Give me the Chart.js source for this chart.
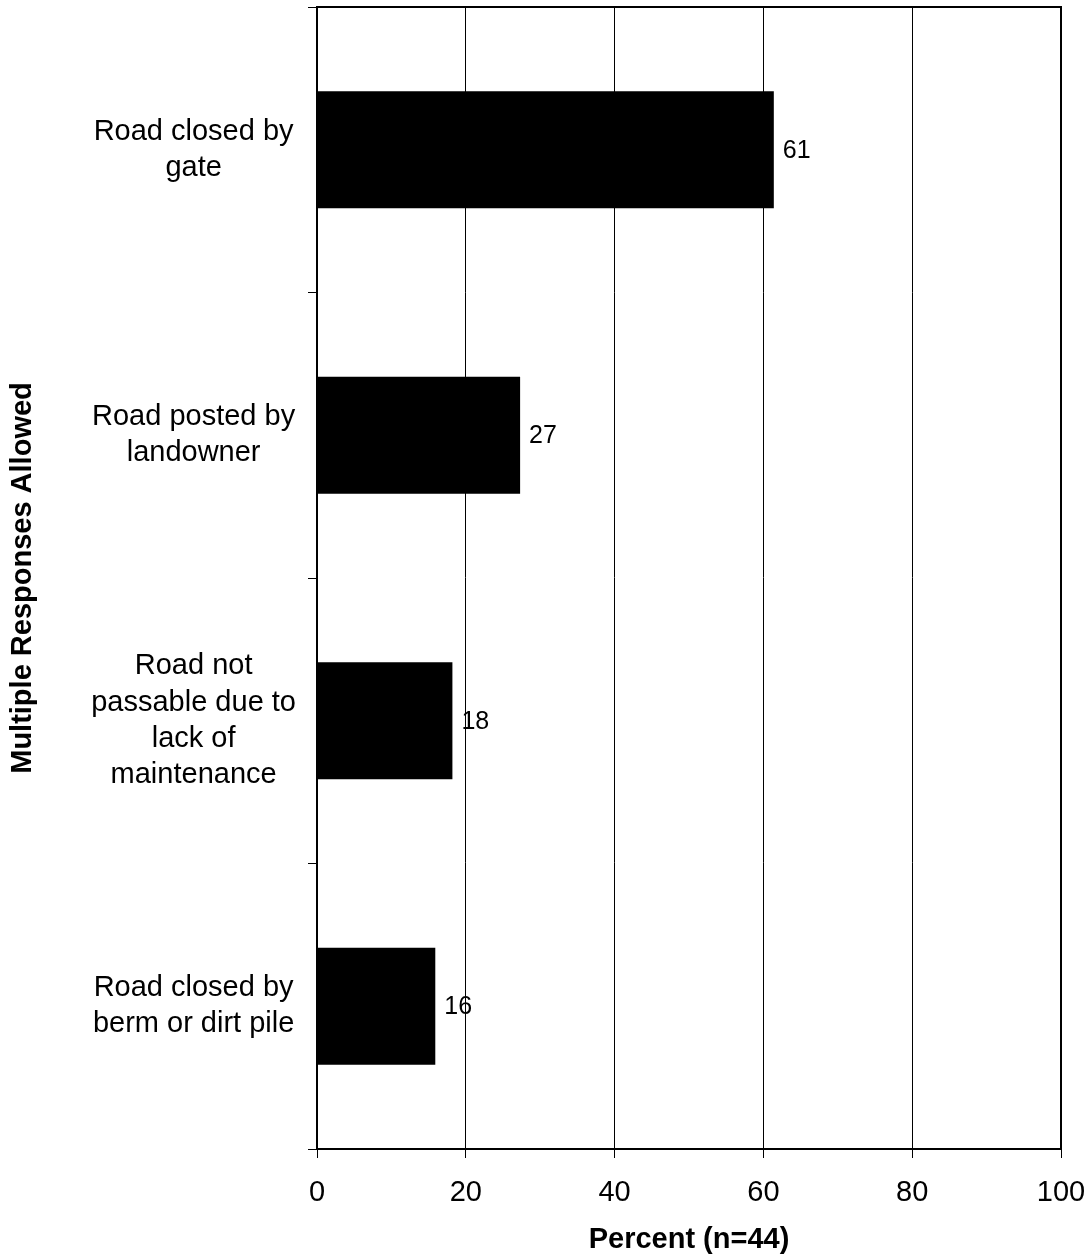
<!DOCTYPE html>
<html>
<head>
<meta charset="utf-8">
<script src="https://cdn.jsdelivr.net/npm/chart.js@4/dist/chart.umd.min.js"></script>
<style>
  html, body { margin: 0; padding: 0; background: #fff; }
  #wrap { width: 1092px; height: 1259px; }
</style>
</head>
<body>
<div id="wrap"><canvas id="reasonsChart" width="1092" height="1259"></canvas></div>
<script>
const categories = [
    ['Road closed by', 'gate'],
    ['Road posted by', 'landowner'],
    ['Road not', 'passable due to', 'lack of', 'maintenance'],
    ['Road closed by', 'berm or dirt pile']
];
const percents = [61.4, 27.3, 18.2, 15.9];
const xTicks = [0, 20, 40, 60, 80, 100];

const FONT = "'Liberation Sans', Arial, sans-serif";

// marco superior e direito da área do gráfico
const framePlugin = {
    id: 'frame',
    afterDraw(chart) {
        const { ctx, chartArea: a } = chart;
        ctx.save();
        ctx.strokeStyle = '#000';
        ctx.lineWidth = 2;
        ctx.beginPath();
        ctx.moveTo(a.left, a.top);
        ctx.lineTo(a.right, a.top);
        ctx.lineTo(a.right, a.bottom);
        ctx.stroke();
        ctx.restore();
    }
};

// rótulos de valor ao lado das barras
const valueLabels = {
    id: 'valueLabels',
    afterDatasetsDraw(chart) {
        const { ctx } = chart;
        const meta = chart.getDatasetMeta(0);
        ctx.save();
        ctx.fillStyle = '#000';
        ctx.font = '25px ' + FONT;
        ctx.textAlign = 'left';
        ctx.textBaseline = 'middle';
        meta.data.forEach((bar, i) => {
            ctx.fillText(Math.round(percents[i]), bar.x + 9, bar.y + 1);
        });
        ctx.restore();
    }
};

const ctx = document.getElementById('reasonsChart').getContext('2d');
const reasonsChart = new Chart(ctx, {
    type: 'bar',
    data: {
        labels: categories,
        datasets: [{
            data: percents,
            backgroundColor: '#000',
            borderWidth: 0,
            barPercentage: 0.41,
            categoryPercentage: 1
        }]
    },
    options: {
        indexAxis: 'y',
        responsive: false,
        animation: false,
        layout: { padding: { top: 7, right: 31, left: 0, bottom: 0 } },
        plugins: {
            legend: { display: false },
            tooltip: { enabled: false }
        },
        scales: {
            x: {
                min: 0,
                max: 100,
                afterBuildTicks: scale => { scale.ticks = xTicks.map(v => ({ value: v })); },
                afterFit: scale => {
                    scale.height = 110;
                    scale.paddingLeft = 0;
                    scale.paddingRight = 0;
                },
                grid: { color: '#000', lineWidth: 1, tickLength: 9 },
                border: { color: '#000', width: 2 },
                ticks: {
                    color: '#000',
                    padding: 18,
                    maxRotation: 0,
                    font: { family: FONT, size: 29 }
                },
                title: {
                    display: true,
                    text: 'Percent (n=44)',
                    color: '#000',
                    font: { family: FONT, size: 29, weight: 'bold' },
                    padding: { top: 0, bottom: 2 }
                }
            },
            y: {
                afterFit: scale => {
                    scale.width = 317;
                    scale.paddingTop = 0;
                    scale.paddingBottom = 0;
                },
                grid: { drawOnChartArea: false, offset: true, color: '#000', lineWidth: 1, tickLength: 9 },
                border: { color: '#000', width: 2 },
                ticks: {
                    color: '#000',
                    padding: 12,
                    crossAlign: 'center',
                    font: { family: FONT, size: 29, lineHeight: 1.25 }
                },
                title: {
                    display: true,
                    text: 'Multiple Responses Allowed',
                    color: '#000',
                    font: { family: FONT, size: 29, weight: 'bold' },
                    padding: { top: 6, bottom: 0 }
                }
            }
        }
    },
    plugins: [framePlugin, valueLabels]
});
</script>
</body>
</html>
